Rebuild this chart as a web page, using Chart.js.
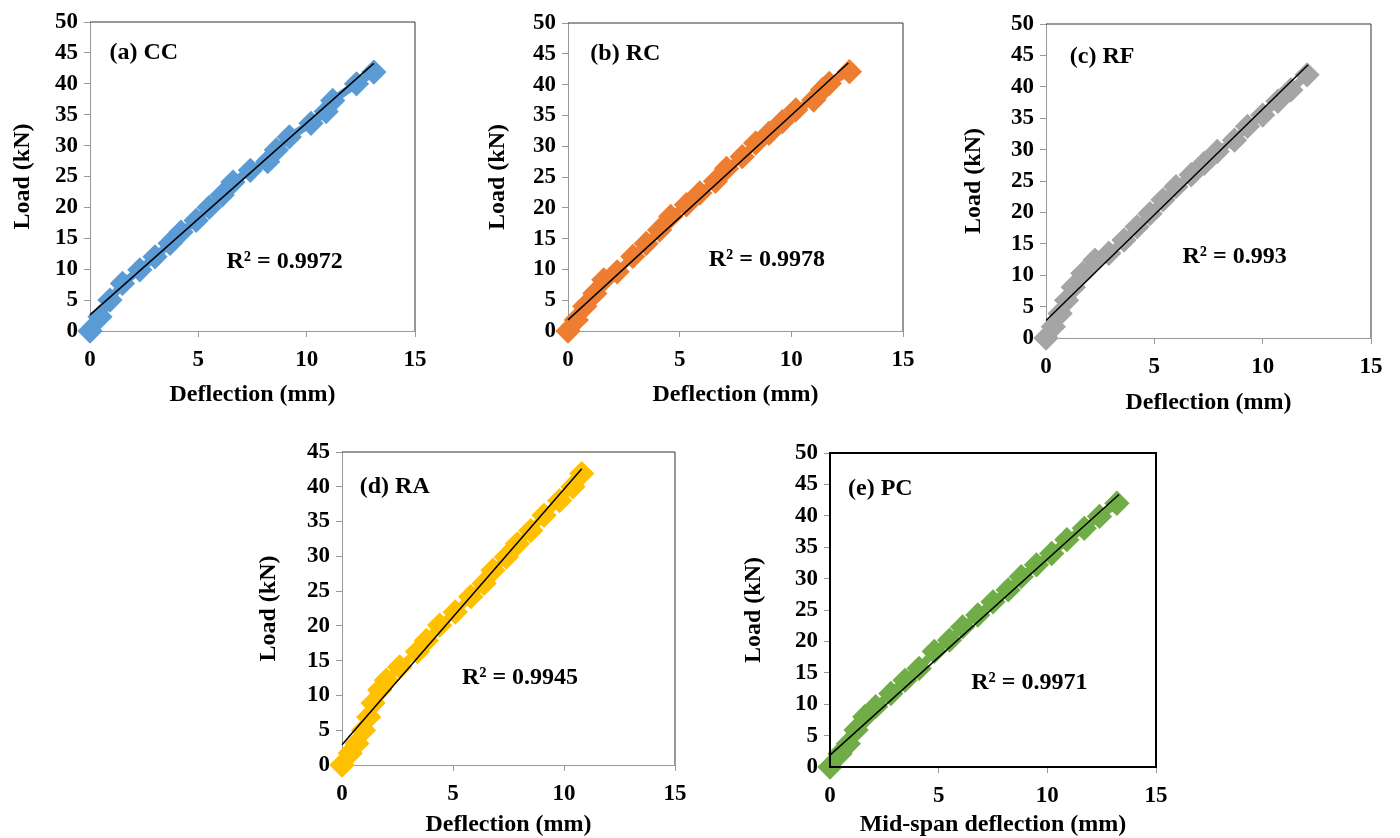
<!DOCTYPE html>
<html>
<head>
<meta charset="utf-8">
<script src="https://cdn.jsdelivr.net/npm/chart.js@4.4.0/dist/chart.umd.min.js"></script>
<style>
  body { margin: 0; background: #fff; width: 1400px; height: 838px; overflow: hidden; position: relative; }
  canvas { position: absolute; }
</style>
</head>
<body>
<canvas id="cc"></canvas>
<canvas id="rc"></canvas>
<canvas id="rf"></canvas>
<canvas id="ra"></canvas>
<canvas id="pc"></canvas>
<script>
// (a) CC
const ccDefl = [0, 0.46, 0.92, 1.5, 2.3, 3.0, 3.7, 4.2, 4.9, 5.5, 6.1, 6.6, 7.4, 8.2, 8.6, 9.2, 10.2, 10.9, 11.2, 12.3, 13.1];
const ccLoad = [0, 2.3, 5.0, 7.7, 9.9, 12.0, 14.2, 16.0, 17.9, 20.0, 22.0, 24.1, 26.0, 27.4, 29.3, 31.4, 33.6, 35.5, 37.3, 40.0, 41.9];
const ccTrendDefl = [0, 13.1];
const ccTrendLoad = [2.6, 43.3];

// (b) RC
const rcDefl = [0, 0.37, 0.75, 1.2, 1.6, 2.2, 2.9, 3.5, 4.1, 4.6, 5.3, 5.9, 6.6, 7.1, 7.8, 8.4, 9.0, 9.6, 10.2, 11.0, 11.4, 11.7, 12.6];
const rcLoad = [0, 1.8, 4.0, 6.1, 8.3, 9.6, 12.1, 14.2, 16.4, 18.6, 20.5, 22.4, 24.3, 26.4, 28.3, 30.5, 32.1, 34.0, 35.9, 37.5, 39.2, 40.2, 42.1];
const rcTrendDefl = [0, 12.55];
const rcTrendLoad = [1.8, 43.5];

// (c) RF
const rfDefl = [0, 0.34, 0.65, 0.95, 1.26, 1.7, 2.26, 2.9, 3.6, 4.2, 4.8, 5.4, 6.0, 6.7, 7.3, 7.9, 8.7, 9.3, 10.0, 10.7, 11.3, 12.05];
const rfLoad = [0, 1.8, 3.9, 6.0, 8.1, 10.3, 12.4, 13.5, 15.6, 17.7, 19.8, 22.0, 24.1, 26.0, 27.8, 29.7, 31.5, 33.7, 35.5, 37.7, 39.5, 41.9];
const rfTrendDefl = [0, 12.1];
const rfTrendLoad = [2.8, 43.5];

// (d) RA
const raDefl = [0, 0.37, 0.67, 0.97, 1.2, 1.4, 1.7, 2.0, 2.6, 3.4, 3.8, 4.4, 5.1, 5.8, 6.4, 6.8, 7.4, 7.9, 8.5, 9.1, 9.8, 10.4, 10.8];
const raLoad = [0, 1.7, 3.1, 5.0, 6.9, 8.9, 10.8, 12.2, 14.1, 16.3, 17.9, 20.1, 22.0, 24.2, 26.1, 28.0, 29.9, 31.8, 33.7, 35.9, 38.0, 40.0, 41.9];
const raTrendDefl = [0, 10.8];
const raTrendLoad = [2.9, 42.6];

// (e) PC
const pcDefl = [0, 0.46, 0.84, 1.2, 1.6, 2.1, 2.8, 3.45, 4.1, 4.8, 5.5, 6.1, 6.8, 7.5, 8.2, 8.8, 9.5, 10.2, 10.9, 11.7, 12.4, 13.2];
const pcLoad = [0, 2.1, 3.7, 5.9, 8.0, 9.6, 11.7, 13.8, 15.7, 18.4, 20.2, 22.3, 24.2, 26.3, 28.2, 30.3, 32.2, 34.0, 36.2, 38.0, 39.9, 42.0];
const pcTrendDefl = [0, 13.3];
const pcTrendLoad = [1.9, 43.4];

const xTicks = [0, 5, 10, 15];
const serif = "'Liberation Serif', 'Times New Roman', serif";

const pts = (xs, ys) => xs.map((x, i) => ({ x: x, y: ys[i] }));

// frame lines + in-plot text
const framePlugin = {
  id: "frame",
  afterDatasetsDraw(chart, args, opts) {
    const { ctx, chartArea: a, scales } = chart;
    ctx.save();
    ctx.strokeStyle = opts.color;
    ctx.lineWidth = opts.width;
    ctx.beginPath();
    if (opts.full) {
      ctx.rect(a.left, a.top, a.right - a.left, a.bottom - a.top);
    } else {
      ctx.moveTo(a.left, a.top);
      ctx.lineTo(a.right, a.top);
      ctx.lineTo(a.right, a.bottom);
    }
    ctx.stroke();
    ctx.fillStyle = "#000";
    ctx.font = "bold 24px " + serif;
    ctx.textAlign = "left";
    ctx.textBaseline = "middle";
    opts.labels.forEach(l => {
      ctx.fillText(l.text, scales.x.getPixelForValue(l.x), scales.y.getPixelForValue(l.y));
    });
    ctx.restore();
  }
};

function makePanel(id, box, color, data, trend, yMax, xTitle, labels, full) {
  const yW = 95, xH = 80, padT = 20, padR = 25;
  const cv = document.getElementById(id);
  cv.width = box.right - box.left + yW + padR;
  cv.height = box.bottom - box.top + padT + xH;
  cv.style.left = (box.left - yW) + "px";
  cv.style.top = (box.top - padT) + "px";

  const tickFont = { family: serif, size: 23, weight: "bold" };
  const titleFont = { family: serif, size: 24, weight: "bold" };

  new Chart(cv.getContext("2d"), {
    type: "scatter",
    data: {
      datasets: [
        {
          data: trend,
          showLine: true,
          borderColor: "#000",
          borderWidth: 1.5,
          pointRadius: 0,
          order: 0,
          clip: false
        },
        {
          data: data,
          showLine: true,
          borderColor: color,
          borderWidth: 8,
          backgroundColor: color,
          pointBorderColor: color,
          pointStyle: "rectRot",
          pointRadius: 7,
          order: 1,
          clip: false
        }
      ]
    },
    options: {
      responsive: false,
      animation: false,
      layout: { padding: { top: padT, right: padR, left: 0, bottom: 0 } },
      plugins: {
        legend: { display: false },
        tooltip: { enabled: false },
        frame: { color: full ? "#000" : "#333", width: full ? 2 : 1, full: full, labels: labels }
      },
      scales: {
        x: {
          type: "linear",
          min: 0,
          max: 15,
          afterBuildTicks: s => { s.ticks = xTicks.map(v => ({ value: v })); },
          afterFit: s => { s.height = xH; },
          ticks: { font: tickFont, color: "#000", padding: 9, maxRotation: 0 },
          grid: { drawOnChartArea: false, drawTicks: true, tickLength: 6, color: "#999" },
          border: { display: true, color: full ? "#000" : "#999", width: full ? 2 : 1 },
          title: { display: true, text: xTitle, font: titleFont, color: "#000", padding: { top: 0, bottom: box.xOff } }
        },
        y: {
          type: "linear",
          min: 0,
          max: yMax,
          afterFit: s => { s.width = yW; },
          ticks: { stepSize: 5, font: tickFont, color: "#000", padding: 6 },
          grid: { drawOnChartArea: false, drawTicks: true, tickLength: 6, color: "#999" },
          border: { display: true, color: full ? "#000" : "#999", width: full ? 2 : 1 },
          title: { display: true, text: "Load (kN)", font: titleFont, color: "#000", padding: { top: box.yOff, bottom: 0 } }
        }
      }
    },
    plugins: [framePlugin]
  });
}

makePanel("cc", { left: 90, top: 22, right: 415, bottom: 331, yOff: 13, xOff: 2 }, "#5B9BD5",
  pts(ccDefl, ccLoad), pts(ccTrendDefl, ccTrendLoad), 50, "Deflection (mm)",
  [{ text: "(a) CC", x: 0.9, y: 45 }, { text: "R² = 0.9972", x: 6.3, y: 11.2 }], false);

makePanel("rc", { left: 568, top: 23, right: 903, bottom: 331, yOff: 10, xOff: 2 }, "#ED7D31",
  pts(rcDefl, rcLoad), pts(rcTrendDefl, rcTrendLoad), 50, "Deflection (mm)",
  [{ text: "(b) RC", x: 1.0, y: 45 }, { text: "R² = 0.9978", x: 6.3, y: 11.5 }], false);

makePanel("rf", { left: 1046, top: 24, right: 1371, bottom: 338, yOff: 8, xOff: 1 }, "#A5A5A5",
  pts(rfDefl, rfLoad), pts(rfTrendDefl, rfTrendLoad), 50, "Deflection (mm)",
  [{ text: "(c) RF", x: 1.1, y: 44.7 }, { text: "R² = 0.993", x: 6.3, y: 12.9 }], false);

makePanel("ra", { left: 342, top: 452, right: 675, bottom: 765, yOff: 7, xOff: 6 }, "#FFC000",
  pts(raDefl, raLoad), pts(raTrendDefl, raTrendLoad), 45, "Deflection (mm)",
  [{ text: "(d) RA", x: 0.8, y: 40 }, { text: "R² = 0.9945", x: 5.4, y: 12.5 }], false);

makePanel("pc", { left: 830, top: 453, right: 1156, bottom: 767, yOff: 4, xOff: 8 }, "#70AD47",
  pts(pcDefl, pcLoad), pts(pcTrendDefl, pcTrendLoad), 50, "Mid-span deflection (mm)",
  [{ text: "(e) PC", x: 0.83, y: 44.3 }, { text: "R² = 0.9971", x: 6.5, y: 13.4 }], true);
</script>
</body>
</html>
